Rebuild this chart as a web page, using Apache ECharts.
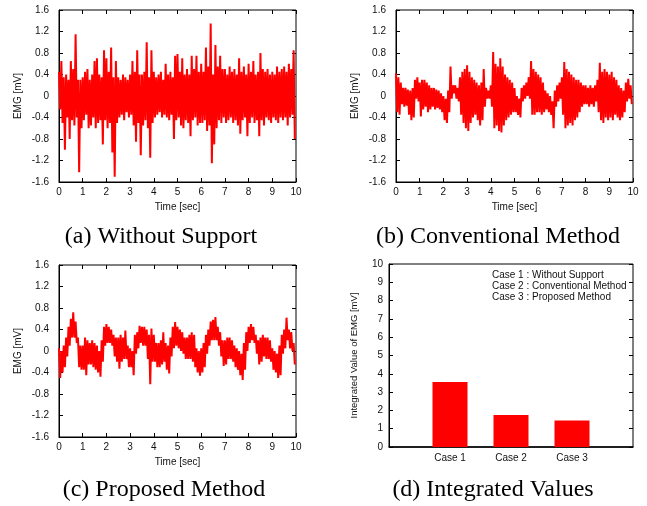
<!DOCTYPE html>
<html>
<head>
<meta charset="utf-8">
<script src="https://cdn.jsdelivr.net/npm/echarts@6/dist/echarts.min.js"></script>
<style>
    html, body { margin: 0; padding: 0; background: #fff; }
    #chart { width: 647px; height: 506px; }
</style>
</head>
<body>
<div id="chart"></div>
<script>
// EMG peaks / troughs, one pair every 0.1 sec
const withoutHigh = [
    0.45, 0.65, 0.35, 0.40, 0.30, 0.65, 0.50, 1.15, 0.30, 0.30,
    0.35, 0.45, 0.50, 0.30, 0.40, 0.65, 0.70, 0.40, 0.35, 0.85,
    0.70, 0.45, 0.90, 0.35, 0.65, 0.35, 0.30, 0.40, 0.35, 0.30,
    0.40, 0.65, 0.45, 0.85, 0.40, 0.40, 0.45, 1.00, 0.35, 0.85,
    0.45, 0.35, 0.40, 0.45, 0.30, 0.60, 0.40, 0.45, 0.35, 0.75,
    0.78, 0.45, 0.70, 0.40, 0.50, 0.40, 0.75, 0.50, 0.75, 0.45,
    0.60, 0.45, 0.90, 0.55, 1.35, 0.40, 0.95, 0.55, 0.75, 0.50,
    0.50, 0.40, 0.55, 0.45, 0.50, 0.40, 0.70, 0.45, 0.55, 0.40,
    0.60, 0.45, 0.65, 0.40, 0.45, 0.80, 0.50, 0.45, 0.50, 0.40,
    0.45, 0.40, 0.55, 0.45, 0.50, 0.55, 0.45, 0.60, 0.50, 0.85
];
const withoutLow = [
    -0.25, -0.50, -1.00, -0.40, -0.80, -0.45, -0.55, -0.40, -1.42, -0.60,
    -0.45, -0.35, -0.60, -0.55, -0.40, -0.60, -0.50, -0.45, -0.90, -0.45,
    -0.60, -0.50, -1.05, -1.50, -0.50, -0.40, -0.35, -0.45, -0.30, -0.40,
    -0.35, -0.55, -0.85, -0.50, -1.10, -0.55, -0.45, -0.60, -1.15, -0.50,
    -0.40, -0.35, -0.30, -0.40, -0.35, -0.40, -0.45, -0.35, -0.80, -0.45,
    -0.40, -0.55, -0.60, -0.45, -0.50, -0.75, -0.45, -0.40, -0.55, -0.50,
    -0.50, -0.45, -0.65, -0.55, -1.25, -0.90, -0.60, -0.45, -0.50, -0.40,
    -0.50, -0.45, -0.40, -0.50, -0.45, -0.55, -0.70, -0.45, -0.40, -0.75,
    -0.50, -0.40, -0.50, -0.45, -0.75, -0.45, -0.55, -0.40, -0.45, -0.50,
    -0.40, -0.45, -0.50, -0.40, -0.45, -0.40, -0.55, -0.40, -0.35, -0.80
];
const conventionalHigh = [
    0.42, 0.35, 0.25, 0.15, 0.15, 0.12, 0.10, 0.15, 0.30, 0.35,
    0.25, 0.30, 0.30, 0.25, 0.20, 0.15, 0.15, 0.12, 0.10, 0.05,
    0.00, -0.05, 0.10, 0.55, 0.20, 0.20, 0.15, 0.35, 0.45, 0.50,
    0.57, 0.45, 0.35, 0.30, 0.25, 0.20, 0.25, 0.50, 0.15, 0.10,
    0.20, 0.82, 0.60, 0.55, 0.70, 0.55, 0.40, 0.35, 0.30, 0.25,
    0.15, 0.00, -0.05, 0.15, 0.20, 0.25, 0.35, 0.65, 0.50, 0.45,
    0.40, 0.35, 0.25, 0.10, 0.05, 0.00, -0.10, 0.10, 0.20, 0.25,
    0.35, 0.63, 0.50, 0.45, 0.40, 0.35, 0.30, 0.30, 0.25, 0.20,
    0.20, 0.15, 0.20, 0.15, 0.20, 0.30, 0.62, 0.45, 0.50, 0.45,
    0.40, 0.45, 0.35, 0.30, 0.20, 0.15, 0.10, 0.25, 0.32, 0.20
];
const conventionalLow = [
    -0.30, -0.35, -0.15, -0.20, -0.18, -0.35, -0.45, -0.40, -0.05, -0.10,
    -0.38, -0.25, -0.20, -0.30, -0.25, -0.20, -0.25, -0.22, -0.25, -0.30,
    -0.45, -0.50, -0.30, -0.05, 0.05, -0.05, -0.10, -0.35, -0.50, -0.60,
    -0.65, -0.50, -0.40, -0.35, -0.45, -0.55, -0.45, -0.20, -0.05, -0.05,
    -0.20, -0.60, -0.55, -0.65, -0.68, -0.55, -0.45, -0.40, -0.35, -0.30,
    -0.30, -0.35, -0.40, -0.10, -0.05, 0.00, -0.05, -0.35, -0.35, -0.30,
    -0.30, -0.35, -0.30, -0.25, -0.30, -0.35, -0.60, -0.20, -0.10, -0.05,
    -0.35, -0.60, -0.55, -0.50, -0.55, -0.45, -0.40, -0.30, -0.20, -0.15,
    -0.15, -0.20, -0.15, -0.20, -0.10, -0.30, -0.45, -0.50, -0.40, -0.45,
    -0.40, -0.45, -0.35, -0.40, -0.45, -0.40, -0.30, -0.10, -0.05, -0.15
];
const proposedHigh = [
    0.05, 0.00, 0.10, 0.25, 0.45, 0.60, 0.72, 0.55, 0.25, 0.10,
    0.10, 0.25, 0.20, 0.15, 0.20, 0.15, 0.10, 0.00, 0.20, 0.45,
    0.50, 0.45, 0.40, 0.30, 0.25, 0.25, 0.30, 0.25, 0.38, 0.10,
    0.05, 0.00, 0.30, 0.35, 0.47, 0.45, 0.45, 0.40, 0.30, 0.42,
    0.30, 0.15, 0.15, 0.20, 0.35, 0.15, 0.10, 0.25, 0.45, 0.54,
    0.45, 0.40, 0.35, 0.25, 0.25, 0.30, 0.35, 0.30, 0.05, 0.00,
    0.05, 0.15, 0.30, 0.40, 0.55, 0.58, 0.63, 0.45, 0.35, 0.20,
    0.20, 0.25, 0.25, 0.20, 0.10, 0.05, 0.00, -0.05, 0.15, 0.35,
    0.45, 0.50, 0.45, 0.30, 0.20, 0.25, 0.30, 0.25, 0.25, 0.20,
    0.05, 0.00, -0.05, 0.10, 0.30, 0.40, 0.62, 0.40, 0.35, 0.15
];
const proposedLow = [
    -0.50, -0.40, -0.30, -0.10, 0.10, 0.25, 0.25, 0.15, -0.30, -0.35,
    -0.35, -0.45, -0.25, -0.25, -0.30, -0.35, -0.40, -0.48, -0.20, 0.10,
    0.15, 0.15, 0.10, -0.10, -0.20, -0.33, -0.20, -0.15, -0.15, -0.30,
    -0.30, -0.45, -0.05, 0.05, 0.15, 0.10, 0.10, -0.15, -0.62, -0.20,
    -0.20, -0.30, -0.30, -0.25, -0.20, -0.35, -0.42, -0.10, 0.05, 0.10,
    0.05, 0.00, -0.05, -0.15, -0.15, -0.15, -0.20, -0.30, -0.40, -0.46,
    -0.40, -0.30, -0.05, 0.10, 0.20, 0.20, 0.20, 0.10, -0.10, -0.28,
    -0.25, -0.15, -0.15, -0.20, -0.30, -0.35, -0.45, -0.54, -0.35, 0.00,
    0.15, 0.20, 0.15, -0.05, -0.25, -0.20, -0.10, -0.15, -0.15, -0.20,
    -0.35, -0.40, -0.50, -0.45, -0.05, 0.05, 0.20, 0.05, 0.00, -0.25
];
const sampleStep = 0.1;

const caseLabels = ['Case 1', 'Case 2', 'Case 3'];
const integratedValues = [3.55, 1.75, 1.45];
const caseNotes = ['Case 1 : Without Support', 'Case 2 : Conventional Method', 'Case 3 : Proposed Method'];
const captions = ['(a) Without Support', '(b) Conventional Method', '(c) Proposed Method', '(d) Integrated Values'];

// peak, trough, peak, trough ...
function trace(high, low) {
    const pts = [];
    high.forEach((h, i) => {
        pts.push([i * sampleStep, h]);
        pts.push([i * sampleStep + sampleStep / 2, low[i]]);
    });
    return pts;
}

const sans = 'Liberation Sans, Arial, Helvetica, sans-serif';
const ink = '#111';

const grids = [
    { left: 59, top: 10, width: 237, height: 172 },
    { left: 396, top: 10, width: 237, height: 172 },
    { left: 59, top: 265, width: 237, height: 172 },
    { left: 389, top: 264, width: 244, height: 183 },
].map(g => Object.assign({ show: true, borderColor: '#000', borderWidth: 1, backgroundColor: 'transparent' }, g));

function timeAxes(gi) {
    return [
        {
            type: 'value', gridIndex: gi, min: 0, max: 10, interval: 1,
            name: 'Time [sec]', nameLocation: 'middle', nameGap: 20,
            nameTextStyle: { fontFamily: sans, fontSize: 10, color: ink },
            axisLine: { show: true, onZero: false, lineStyle: { color: '#000' } },
            axisTick: { inside: true, length: 4, lineStyle: { color: '#000' } },
            axisLabel: { fontFamily: sans, fontSize: 10, color: ink, margin: 5 },
            splitLine: { show: false },
        },
        {
            type: 'value', gridIndex: gi, min: 0, max: 10, interval: 1, position: 'top',
            axisLine: { show: false, onZero: false },
            axisTick: { inside: true, length: 4, lineStyle: { color: '#000' } },
            axisLabel: { show: false },
            splitLine: { show: false },
        },
    ];
}

function emgAxes(gi) {
    return [
        {
            type: 'value', gridIndex: gi, min: -1.6, max: 1.6, interval: 0.4,
            name: 'EMG [mV]', nameLocation: 'middle', nameGap: 36,
            nameTextStyle: { fontFamily: sans, fontSize: 10, color: ink },
            axisLine: { show: true, onZero: false, lineStyle: { color: '#000' } },
            axisTick: { inside: true, length: 4, lineStyle: { color: '#000' } },
            axisLabel: {
                fontFamily: sans, fontSize: 10, color: ink, margin: 10,
                formatter: v => (Math.abs(v) < 1e-9 ? '0' : v.toFixed(1)),
            },
            splitLine: { show: false },
        },
        {
            type: 'value', gridIndex: gi, min: -1.6, max: 1.6, interval: 0.4, position: 'right',
            axisLine: { show: false, onZero: false },
            axisTick: { inside: true, length: 4, lineStyle: { color: '#000' } },
            axisLabel: { show: false },
            splitLine: { show: false },
        },
    ];
}

const xAxes = [].concat(timeAxes(0), timeAxes(1), timeAxes(2), [{
    type: 'value', gridIndex: 3, min: 0, max: 4, interval: 1,
    axisLine: { show: true, onZero: false, lineStyle: { color: '#000', width: 1.5 } },
    axisTick: { show: false },
    axisLabel: {
        fontFamily: sans, fontSize: 10, color: ink, margin: 6,
        formatter: v => caseLabels[v - 1] || '',
    },
    splitLine: { show: false },
}]);

const yAxes = [].concat(emgAxes(0), emgAxes(1), emgAxes(2), [
    {
        type: 'value', gridIndex: 3, min: 0, max: 10, interval: 1,
        name: 'Integrated Value of EMG [mV]', nameLocation: 'middle', nameGap: 30,
        nameTextStyle: { fontFamily: sans, fontSize: 9.5, color: ink },
        axisLine: { show: true, onZero: false, lineStyle: { color: '#000' } },
        axisTick: { inside: true, length: 4, lineStyle: { color: '#000' } },
        axisLabel: { fontFamily: sans, fontSize: 10, color: ink, margin: 6 },
        splitLine: { show: false },
    },
    {
        type: 'value', gridIndex: 3, min: 0, max: 10, interval: 1, position: 'right',
        axisLine: { show: false, onZero: false },
        axisTick: { inside: true, length: 4, lineStyle: { color: '#000' } },
        axisLabel: { show: false },
        splitLine: { show: false },
    },
]);

function emgSeries(high, low, gi) {
    return {
        type: 'line', xAxisIndex: gi * 2, yAxisIndex: gi * 2,
        data: trace(high, low),
        showSymbol: false, symbol: 'none',
        lineStyle: { color: '#ff0000', width: 2, join: 'miter', miterLimit: 2 },
        silent: true,
    };
}

const captionPos = [[161, 237], [498, 237], [164, 490], [493, 490]];

const myChart = echarts.init(document.getElementById('chart'), null, { renderer: 'canvas' });
myChart.setOption({
    animation: false,
    backgroundColor: '#fff',
    grid: grids,
    xAxis: xAxes,
    yAxis: yAxes,
    series: [
        emgSeries(withoutHigh, withoutLow, 0),
        emgSeries(conventionalHigh, conventionalLow, 1),
        emgSeries(proposedHigh, proposedLow, 2),
        {
            type: 'bar', xAxisIndex: 6, yAxisIndex: 6,
            data: integratedValues.map((v, i) => [i + 1, v]),
            barWidth: 35,
            itemStyle: { color: '#ff0000' },
            silent: true,
        },
    ],
    graphic: [].concat(
        caseNotes.map((t, i) => ({
            type: 'text', left: 492, top: 270 + i * 11,
            style: { text: t, font: '10px ' + sans, fill: ink },
        })),
        captions.map((t, i) => ({
            type: 'text', x: captionPos[i][0], y: captionPos[i][1],
            style: {
                text: t, font: '24px "Liberation Serif", "Times New Roman", serif',
                fill: '#000', textAlign: 'center', textVerticalAlign: 'middle',
            },
        }))
    ),
});
</script>
</body>
</html>
